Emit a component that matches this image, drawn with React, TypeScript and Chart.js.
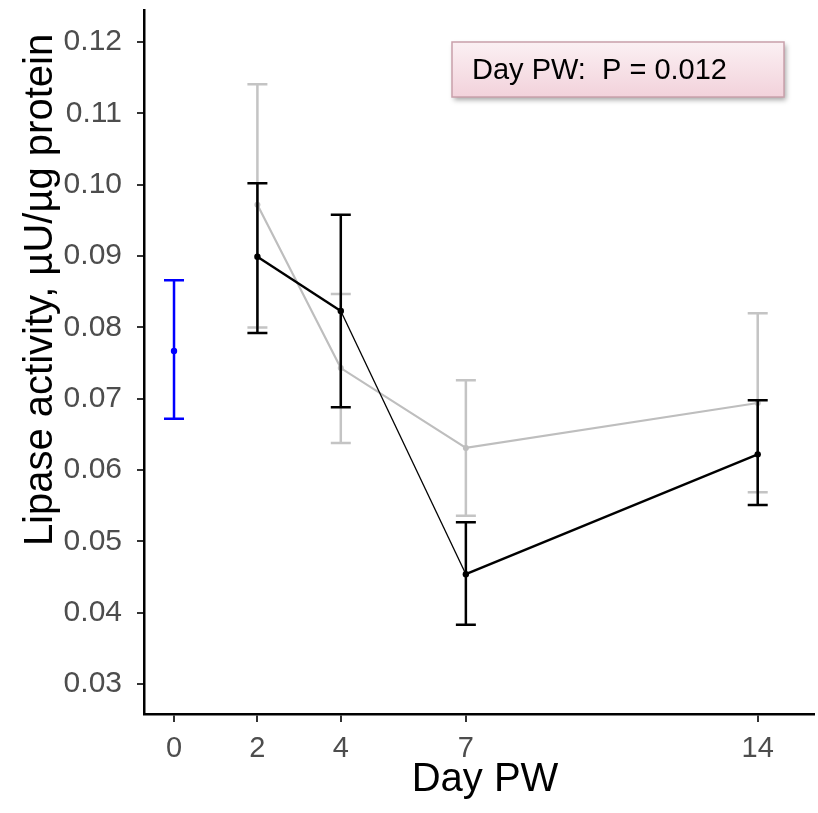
import React, { useEffect, useRef } from "react";
import { Chart, registerables } from "chart.js";

Chart.register(...registerables);

const days = [2, 4, 7, 14];
const xTickValues = [0, 2, 4, 7, 14];
const yTickValues = [0.03, 0.04, 0.05, 0.06, 0.07, 0.08, 0.09, 0.1, 0.11, 0.12];

const blackMean = [0.0899, 0.0823, 0.0454, 0.0622];
const blackLow = [0.0792, 0.0688, 0.0383, 0.0551];
const blackHigh = [0.1002, 0.0958, 0.0527, 0.0698];

const grayMean = [0.0972, 0.0743, 0.0631, 0.0694];
const grayLow = [0.08, 0.0638, 0.0536, 0.0569];
const grayHigh = [0.1141, 0.0847, 0.0726, 0.082];

const baselineDay = [0];
const baselineMean = [0.0767];
const baselineLow = [0.0672];
const baselineHigh = [0.0866];

const yTitle = "Lipase activity, µU/µg protein";
const xTitle = "Day PW";
const annotationText = "Day PW:  P = 0.012";

const FONT = "'Liberation Sans', Arial, sans-serif";

const errorBarPlugin = {
  id: "errorBars",
  beforeDatasetDraw(chart: any, args: any) {
    const ds = chart.data.datasets[args.index] as any;
    if (!ds.errLow) return;
    const ctx = chart.ctx;
    const xs = chart.scales.x;
    const ys = chart.scales.y;
    ctx.save();
    ctx.strokeStyle = ds.errColor;
    ctx.lineWidth = 2.5;
    ds.data.forEach((p: any, i: number) => {
      const px = xs.getPixelForValue(p.x);
      const lo = ys.getPixelForValue(ds.errLow[i]);
      const hi = ys.getPixelForValue(ds.errHigh[i]);
      ctx.beginPath();
      ctx.moveTo(px, lo);
      ctx.lineTo(px, hi);
      ctx.moveTo(px - 10, lo);
      ctx.lineTo(px + 10, lo);
      ctx.moveTo(px - 10, hi);
      ctx.lineTo(px + 10, hi);
      ctx.stroke();
    });
    ctx.restore();
  },
};

const decorPlugin = {
  id: "decor",
  afterDraw(chart: any) {
    const ctx = chart.ctx;
    const area = chart.chartArea;
    ctx.save();
    ctx.fillStyle = "#000";
    ctx.font = `40px ${FONT}`;
    ctx.textAlign = "center";
    ctx.textBaseline = "middle";
    ctx.save();
    ctx.translate(41, 290);
    ctx.rotate(-Math.PI / 2);
    ctx.fillText(yTitle, 0, 0);
    ctx.restore();
    ctx.fillText(xTitle, (area.left + area.right) / 2 + 6, 780);
    const bx = 452, by = 42, bw = 332, bh = 55;
    ctx.save();
    ctx.shadowColor = "rgba(0,0,0,0.35)";
    ctx.shadowBlur = 5;
    ctx.shadowOffsetX = 2;
    ctx.shadowOffsetY = 3;
    const g = ctx.createLinearGradient(0, by, 0, by + bh);
    g.addColorStop(0, "#fbf0f3");
    g.addColorStop(1, "#f2d2db");
    ctx.fillStyle = g;
    ctx.fillRect(bx, by, bw, bh);
    ctx.restore();
    ctx.strokeStyle = "#c9a0ab";
    ctx.lineWidth = 1.5;
    ctx.strokeRect(bx, by, bw, bh);
    ctx.fillStyle = "#000";
    ctx.font = `29px ${FONT}`;
    ctx.textAlign = "left";
    ctx.textBaseline = "middle";
    ctx.fillText(annotationText, 472, by + bh / 2 + 1);
    ctx.restore();
  },
};

export default function App() {
  const ref = useRef<HTMLCanvasElement | null>(null);
  useEffect(() => {
    document.body.style.margin = "0";
    if (!ref.current) return;
    const toPts = (xs: number[], ys: number[]) => xs.map((x, i) => ({ x, y: ys[i] }));
    const chart = new Chart(ref.current, {
      type: "line",
      data: {
        datasets: [
          {
            label: "Group B",
            data: toPts(days, grayMean),
            borderColor: "#bebebe",
            backgroundColor: "#bebebe",
            borderWidth: 2.2,
            pointRadius: 3,
            pointBorderWidth: 0,
            order: 3,
            errLow: grayLow,
            errHigh: grayHigh,
            errColor: "#c4c4c4",
          } as any,
          {
            label: "Group A",
            data: toPts(days, blackMean),
            borderColor: "#000",
            backgroundColor: "#000",
            borderWidth: 2.4,
            pointRadius: 3.2,
            pointBorderWidth: 0,
            order: 2,
            segment: {
              borderWidth: (c: any) => (c.p0DataIndex === 1 ? 1.3 : 2.4),
            },
            errLow: blackLow,
            errHigh: blackHigh,
            errColor: "#000",
          } as any,
          {
            label: "Baseline",
            data: toPts(baselineDay, baselineMean),
            borderColor: "#0000ff",
            backgroundColor: "#0000ff",
            showLine: false,
            pointRadius: 3.2,
            pointBorderWidth: 0,
            order: 1,
            errLow: baselineLow,
            errHigh: baselineHigh,
            errColor: "#0000ff",
          } as any,
        ],
      },
      options: {
        responsive: false,
        animation: false,
        layout: { padding: { top: 10, right: 0, left: 0, bottom: 0 } },
        plugins: {
          legend: { display: false },
          tooltip: { enabled: false },
        },
        scales: {
          x: {
            type: "linear",
            min: -0.72,
            max: 15.35,
            afterBuildTicks: (s: any) => {
              s.ticks = xTickValues.map((v) => ({ value: v }));
            },
            afterFit: (s: any) => {
              s.height = 99;
              s.paddingLeft = 0;
              s.paddingRight = 0;
            },
            ticks: {
              color: "#4d4d4d",
              font: { size: 29, family: FONT },
              padding: 10,
              autoSkip: false,
              maxRotation: 0,
              callback: (v: any) => String(v),
            },
            grid: {
              display: true,
              drawOnChartArea: false,
              drawTicks: true,
              tickLength: 8,
              color: "#333",
              lineWidth: 2,
            },
            border: { display: true, color: "#000", width: 2.5 },
          },
          y: {
            type: "linear",
            min: 0.0258,
            max: 0.1245,
            afterBuildTicks: (s: any) => {
              s.ticks = yTickValues.map((v) => ({ value: v }));
            },
            afterFit: (s: any) => {
              s.width = 144;
              s.paddingTop = 0;
              s.paddingBottom = 0;
            },
            ticks: {
              color: "#4d4d4d",
              font: { size: 30, family: FONT },
              padding: 15,
              autoSkip: false,
              callback: (v: any) => Number(v).toFixed(2),
            },
            grid: {
              display: true,
              drawOnChartArea: false,
              drawTicks: true,
              tickLength: 7,
              color: "#333",
              lineWidth: 2,
            },
            border: { display: true, color: "#000", width: 2.5 },
          },
        },
      } as any,
      plugins: [errorBarPlugin, decorPlugin],
    });
    return () => chart.destroy();
  }, []);
  return <canvas ref={ref} width={818} height={813} style={{ display: "block" }} />;
}
